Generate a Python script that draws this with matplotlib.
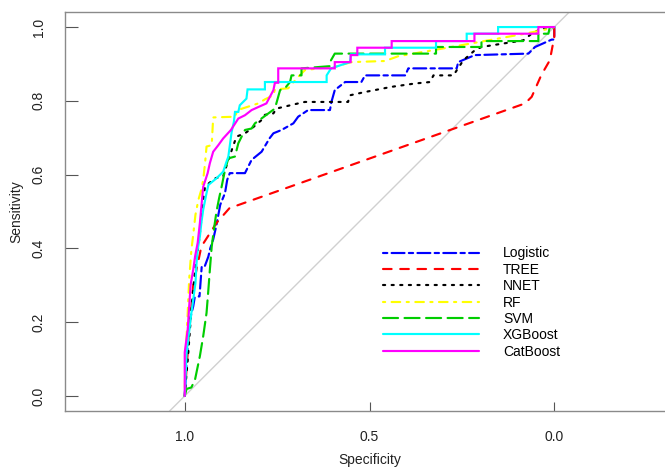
import matplotlib
matplotlib.use("Agg")
import matplotlib.pyplot as plt

plt.rcParams['font.family'] = ['Liberation Sans', 'DejaVu Sans']

# ROC curves: (specificity, sensitivity) vertices for each model
logistic_spec = [1.0, 0.996, 0.991, 0.986, 0.977, 0.973, 0.960, 0.954, 0.946, 0.936, 0.931, 0.923,
                 0.914, 0.904, 0.891, 0.885, 0.878, 0.837, 0.819, 0.792, 0.770, 0.760, 0.738, 0.706,
                 0.693, 0.666, 0.607, 0.603, 0.594, 0.566, 0.522, 0.512, 0.403, 0.395, 0.264, 0.260,
                 0.215, 0.070, 0.052, 0.007, 0.0, 0.0]
logistic_sens = [0.0, 0.072, 0.153, 0.207, 0.243, 0.267, 0.270, 0.351, 0.351, 0.378, 0.400, 0.424,
                 0.464, 0.518, 0.550, 0.586, 0.604, 0.604, 0.640, 0.662, 0.699, 0.712, 0.721, 0.739,
                 0.757, 0.775, 0.775, 0.797, 0.829, 0.851, 0.851, 0.869, 0.869, 0.888, 0.888, 0.905,
                 0.924, 0.928, 0.946, 0.966, 0.966, 1.0]

tree_spec = [1.0, 0.99, 0.977, 0.955, 0.914, 0.879, 0.079, 0.061, 0.035, 0.012, 0.0, 0.0]
tree_sens = [0.0, 0.15, 0.30, 0.405, 0.469, 0.509, 0.793, 0.811, 0.87, 0.91, 0.973, 1.0]

nnet_spec = [1.0, 0.995, 0.991, 0.982, 0.972, 0.968, 0.961, 0.955, 0.950, 0.945, 0.918, 0.896,
             0.882, 0.860, 0.837, 0.819, 0.792, 0.783, 0.760, 0.752, 0.693, 0.675, 0.558, 0.553,
             0.512, 0.440, 0.377, 0.336, 0.327, 0.273, 0.246, 0.215, 0.197, 0.084, 0.061, 0.034, 0.0]
nnet_sens = [0.0, 0.063, 0.108, 0.234, 0.342, 0.369, 0.424, 0.478, 0.532, 0.568, 0.590, 0.595,
             0.640, 0.703, 0.712, 0.725, 0.748, 0.762, 0.766, 0.779, 0.793, 0.797, 0.797, 0.815,
             0.824, 0.838, 0.847, 0.851, 0.869, 0.869, 0.910, 0.937, 0.946, 0.964, 0.982, 0.996, 1.0]

rf_spec = [1.0, 0.999, 0.994, 0.988, 0.982, 0.977, 0.971, 0.963, 0.955, 0.950, 0.945, 0.941, 0.927,
           0.923, 0.864, 0.857, 0.801, 0.783, 0.760, 0.756, 0.720, 0.693, 0.675, 0.639, 0.594,
           0.549, 0.458, 0.422, 0.278, 0.206, 0.079, 0.025, 0.0]
rf_sens = [0.0, 0.08, 0.18, 0.315, 0.396, 0.437, 0.491, 0.532, 0.559, 0.586, 0.631, 0.676, 0.680,
           0.755, 0.757, 0.775, 0.793, 0.804, 0.815, 0.831, 0.834, 0.865, 0.883, 0.888, 0.892,
           0.905, 0.908, 0.921, 0.946, 0.959, 0.982, 0.993, 1.0]

svm_spec = [1.0, 0.995, 0.982, 0.972, 0.959, 0.950, 0.941, 0.936, 0.932, 0.927, 0.920, 0.914,
            0.907, 0.900, 0.891, 0.882, 0.864, 0.855, 0.837, 0.819, 0.810, 0.783, 0.756, 0.747,
            0.742, 0.729, 0.715, 0.711, 0.684, 0.684, 0.607, 0.607, 0.594, 0.320, 0.320, 0.197,
            0.197, 0.043, 0.043, 0.016, 0.012, 0.0]
svm_sens = [0.0, 0.019, 0.023, 0.045, 0.108, 0.162, 0.225, 0.288, 0.342, 0.405, 0.459, 0.500,
            0.536, 0.568, 0.613, 0.644, 0.649, 0.685, 0.721, 0.725, 0.739, 0.759, 0.779, 0.811,
            0.829, 0.834, 0.851, 0.869, 0.869, 0.888, 0.894, 0.905, 0.928, 0.928, 0.946, 0.946,
            0.962, 0.962, 0.982, 0.982, 1.0, 1.0]

xgb_spec = [1.0, 0.995, 0.982, 0.971, 0.968, 0.965, 0.959, 0.955, 0.950, 0.941, 0.936, 0.914,
            0.896, 0.887, 0.882, 0.873, 0.867, 0.864, 0.855, 0.851, 0.833, 0.830, 0.783, 0.783,
            0.616, 0.616, 0.604, 0.553, 0.550, 0.458, 0.458, 0.320, 0.320, 0.237, 0.237, 0.152,
            0.152, 0.0]
xgb_sens = [0.0, 0.117, 0.225, 0.306, 0.360, 0.396, 0.432, 0.469, 0.505, 0.550, 0.572, 0.590,
            0.608, 0.635, 0.649, 0.716, 0.743, 0.770, 0.770, 0.788, 0.806, 0.831, 0.831, 0.851,
            0.851, 0.869, 0.888, 0.905, 0.926, 0.926, 0.944, 0.944, 0.962, 0.962, 0.982, 0.982,
            1.0, 1.0]

cat_spec = [1.0, 1.0, 0.992, 0.989, 0.984, 0.977, 0.972, 0.965, 0.959, 0.955, 0.950, 0.938, 0.932,
            0.923, 0.909, 0.896, 0.875, 0.855, 0.837, 0.819, 0.779, 0.760, 0.756, 0.747, 0.747,
            0.594, 0.594, 0.551, 0.551, 0.533, 0.533, 0.440, 0.440, 0.216, 0.216, 0.043, 0.043, 0.0]
cat_sens = [0.0, 0.118, 0.18, 0.226, 0.302, 0.342, 0.378, 0.415, 0.469, 0.513, 0.567, 0.604, 0.631,
            0.662, 0.680, 0.698, 0.721, 0.752, 0.761, 0.775, 0.793, 0.829, 0.849, 0.849, 0.888,
            0.888, 0.905, 0.905, 0.924, 0.924, 0.944, 0.944, 0.962, 0.962, 0.982, 0.982, 1.0, 1.0]

model_names = ["Logistic", "TREE", "NNET", "RF", "SVM", "XGBoost", "CatBoost"]
model_colors = ["#0000FF", "#FF0000", "#000000", "#FFFF00", "#00CD00", "#00FFFF", "#FF00FF"]
# R-style line types (dash units scale with line width)
model_dashes = [(2, 2, 6, 2), (4, 4), (1, 3), (1, 3, 4, 3), (7, 3), None, None]

x_ticks = [1.0, 0.5, 0.0]
y_ticks = [0.0, 0.2, 0.4, 0.6, 0.8, 1.0]

curves = [(logistic_spec, logistic_sens), (tree_spec, tree_sens), (nnet_spec, nnet_sens),
          (rf_spec, rf_sens), (svm_spec, svm_sens), (xgb_spec, xgb_sens), (cat_spec, cat_sens)]

fig = plt.figure(figsize=(6.65, 4.68), dpi=100)
ax = fig.add_axes([65 / 665, 57.3 / 468, 609 / 665, 398.4 / 468])
ax.set_xlim(1.324, -0.324)
ax.set_ylim(-0.04, 1.04)

# chance line
ax.axline((1.0, 0.0), (0.0, 1.0), color="#d0d0d0", lw=1.0, zorder=1)

lw = 1.55
handles = []
for (sx, sy), name, col, dsh in zip(curves, model_names, model_colors, model_dashes):
    kw = dict(color=col, lw=lw, label=name, dash_capstyle="round", solid_capstyle="round",
              solid_joinstyle="miter")
    if dsh is None:
        line, = ax.plot(sx, sy, linestyle="-", **kw)
    else:
        line, = ax.plot(sx, sy, linestyle=(0, dsh), **kw)
    handles.append(line)

for side in ["left", "bottom", "right", "top"]:
    ax.spines[side].set_color("#8a8a8a")
    ax.spines[side].set_linewidth(1.0)

ax.set_xticks(x_ticks)
ax.set_xticklabels(["%.1f" % v for v in x_ticks])
ax.set_yticks(y_ticks)
ax.set_yticklabels(["%.1f" % v for v in y_ticks])
ax.tick_params(axis="x", direction="in", length=6.5, width=0.8, color="#555555",
               pad=14, labelsize=10, labelcolor="#222222")
ax.tick_params(axis="y", direction="in", length=9.4, width=0.8, color="#555555",
               pad=14, labelsize=10, labelcolor="#222222", labelrotation=90)
for lab in ax.get_yticklabels():
    lab.set_va("center")

ax.set_xlabel("Specificity", fontsize=10, color="#222222")
ax.set_ylabel("Sensitivity", fontsize=10, color="#222222")
ax.xaxis.set_label_coords(0.5, -0.105)
ax.yaxis.set_label_coords(-0.068, 0.5)

ax.legend(handles=handles, loc="upper left", bbox_to_anchor=(383 / 665, 1 - 246.5 / 468),
          bbox_transform=fig.transFigure, frameon=False, handlelength=6.9,
          handletextpad=1.75, labelspacing=0.17, borderpad=0, borderaxespad=0, fontsize=10)

fig.savefig("out.png", dpi=100)
